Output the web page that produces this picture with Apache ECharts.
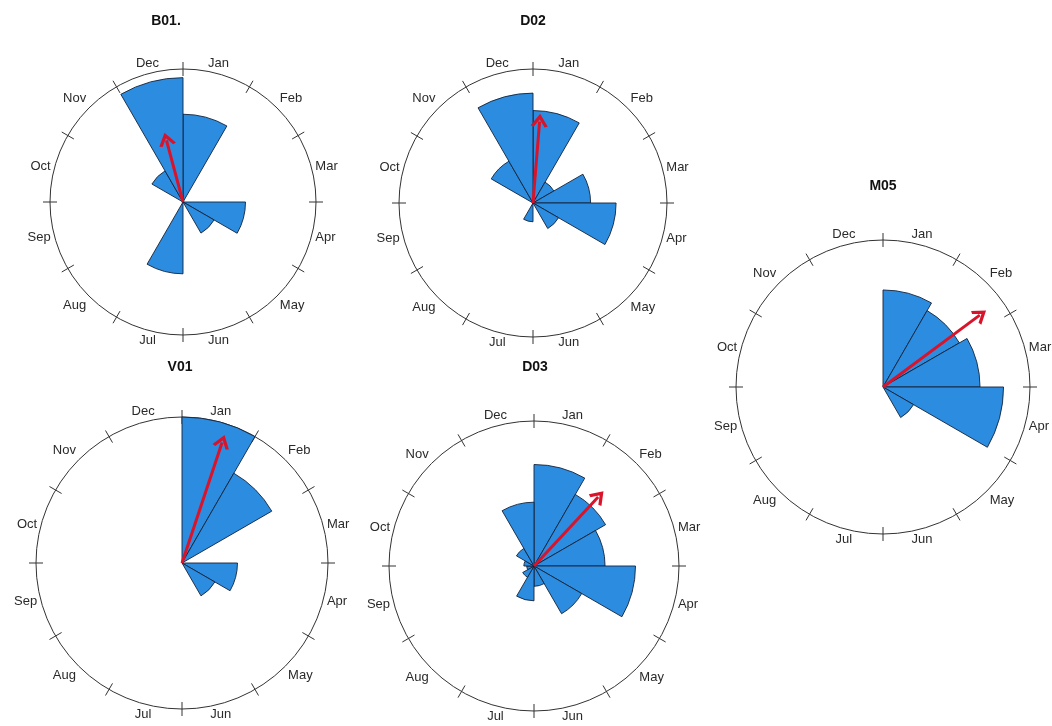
<!DOCTYPE html>
<html>
<head>
<meta charset="utf-8">
<script src="https://cdn.jsdelivr.net/npm/echarts@6/dist/echarts.min.js"></script>
<style>
  html, body { margin: 0; padding: 0; background: #fff; }
  #main { width: 1052px; height: 726px; }
</style>
</head>
<body>
<div id="main"></div>
<script>
// months, clockwise from the top
var months = ['Jan', 'Feb', 'Mar', 'Apr', 'May', 'Jun', 'Jul', 'Aug', 'Sep', 'Oct', 'Nov', 'Dec'];
var sites = ['B01.', 'D02', 'V01', 'D03', 'M05'];

// relative frequency per month (1 = outer circle)
var b01 = [0.66, 0, 0, 0.47, 0.27, 0, 0.54, 0, 0, 0, 0.27, 0.935];
var d02 = [0.69, 0.18, 0.43, 0.62, 0.22, 0, 0.14, 0, 0, 0, 0.36, 0.82];
var v01 = [1.0, 0.71, 0, 0.38, 0.26, 0, 0, 0, 0, 0, 0, 0];
var d03 = [0.70, 0.57, 0.49, 0.70, 0.38, 0.14, 0.24, 0.09, 0.05, 0.07, 0.14, 0.44];
var m05 = [0.66, 0.60, 0.66, 0.82, 0.24, 0, 0, 0, 0, 0, 0, 0];

// mean vector: direction (deg, clockwise from Jan 1st at top) and length
var arrowAngle = [345, 4.6, 18.4, 42.9, 53.4];
var arrowLength = [0.48, 0.61, 0.87, 0.65, 0.82];

var values = [b01, d02, v01, d03, m05];

// where each rose sits on the page
var layout = [
    {center: [183, 202], r: 133, tx: 166, ty: 14},
    {center: [533, 203], r: 134, tx: 533, ty: 14},
    {center: [182, 563], r: 146, tx: 180, ty: 360},
    {center: [534, 566], r: 145, tx: 535, ty: 360},
    {center: [883, 387], r: 147, tx: 883, ty: 179}
];

var fontFam = '"Liberation Sans", Arial, sans-serif';
var blue = '#2c8de0';
var red = '#d9142a';

var myChart = echarts.init(document.getElementById('main'));

var polar = [], angleAxis = [], radiusAxis = [], series = [], title = [];

sites.forEach(function (name, i) {
    var L = layout[i];
    var pa = 2 * i, pb = 2 * i + 1;

    title.push({
        text: name, left: L.tx, top: L.ty, textAlign: 'center', padding: 0,
        textStyle: {fontSize: 14, fontWeight: 'bold', color: '#111', fontFamily: fontFam}
    });

    // polar a: month bars + circle + outer ticks + labels
    polar.push({center: L.center, radius: L.r});
    // polar b: inner ticks + arrow (continuous angle)
    polar.push({center: L.center, radius: L.r});

    angleAxis.push({
        polarIndex: pa, type: 'category', data: months,
        startAngle: 90, clockwise: true, boundaryGap: true,
        axisLine: {lineStyle: {color: '#333', width: 1}},
        axisTick: {length: 7, lineStyle: {color: '#333', width: 1}},
        axisLabel: {margin: 4, fontSize: 13, color: '#2a2a2a', fontFamily: fontFam},
        splitLine: {show: false}
    });
    angleAxis.push({
        polarIndex: pb, type: 'value', min: 0, max: 360, interval: 30,
        startAngle: 90, clockwise: true,
        axisLine: {show: false},
        axisTick: {inside: true, length: 7, lineStyle: {color: '#333', width: 1}},
        axisLabel: {show: false},
        splitLine: {show: false}
    });
    [pa, pb].forEach(function (p) {
        radiusAxis.push({
            polarIndex: p, type: 'value', min: 0, max: 1,
            axisLine: {show: false}, axisTick: {show: false},
            axisLabel: {show: false}, splitLine: {show: false}
        });
    });

    series.push({
        type: 'bar', coordinateSystem: 'polar', polarIndex: pa,
        data: values[i].map(function (v) { return v > 0 ? v : null; }),
        barCategoryGap: '0%',
        itemStyle: {color: blue, borderColor: '#13233a', borderWidth: 0.9},
        z: 2
    });

    var a = arrowAngle[i];
    series.push({
        type: 'line', coordinateSystem: 'polar', polarIndex: pb,
        data: [
            {value: [0, a], symbol: 'none'},
            {value: [arrowLength[i], a], symbol: 'path://M0,10 L5,0 L10,10',
             symbolSize: [14, 10], symbolRotate: -a}
        ],
        showSymbol: true,
        lineStyle: {color: red, width: 3},
        itemStyle: {color: 'none', borderColor: red, borderWidth: 3},
        z: 5
    });
});

var option = {
    animation: false,
    backgroundColor: '#fff',
    title: title,
    polar: polar,
    angleAxis: angleAxis,
    radiusAxis: radiusAxis,
    series: series
};

myChart.setOption(option);
</script>
</body>
</html>
